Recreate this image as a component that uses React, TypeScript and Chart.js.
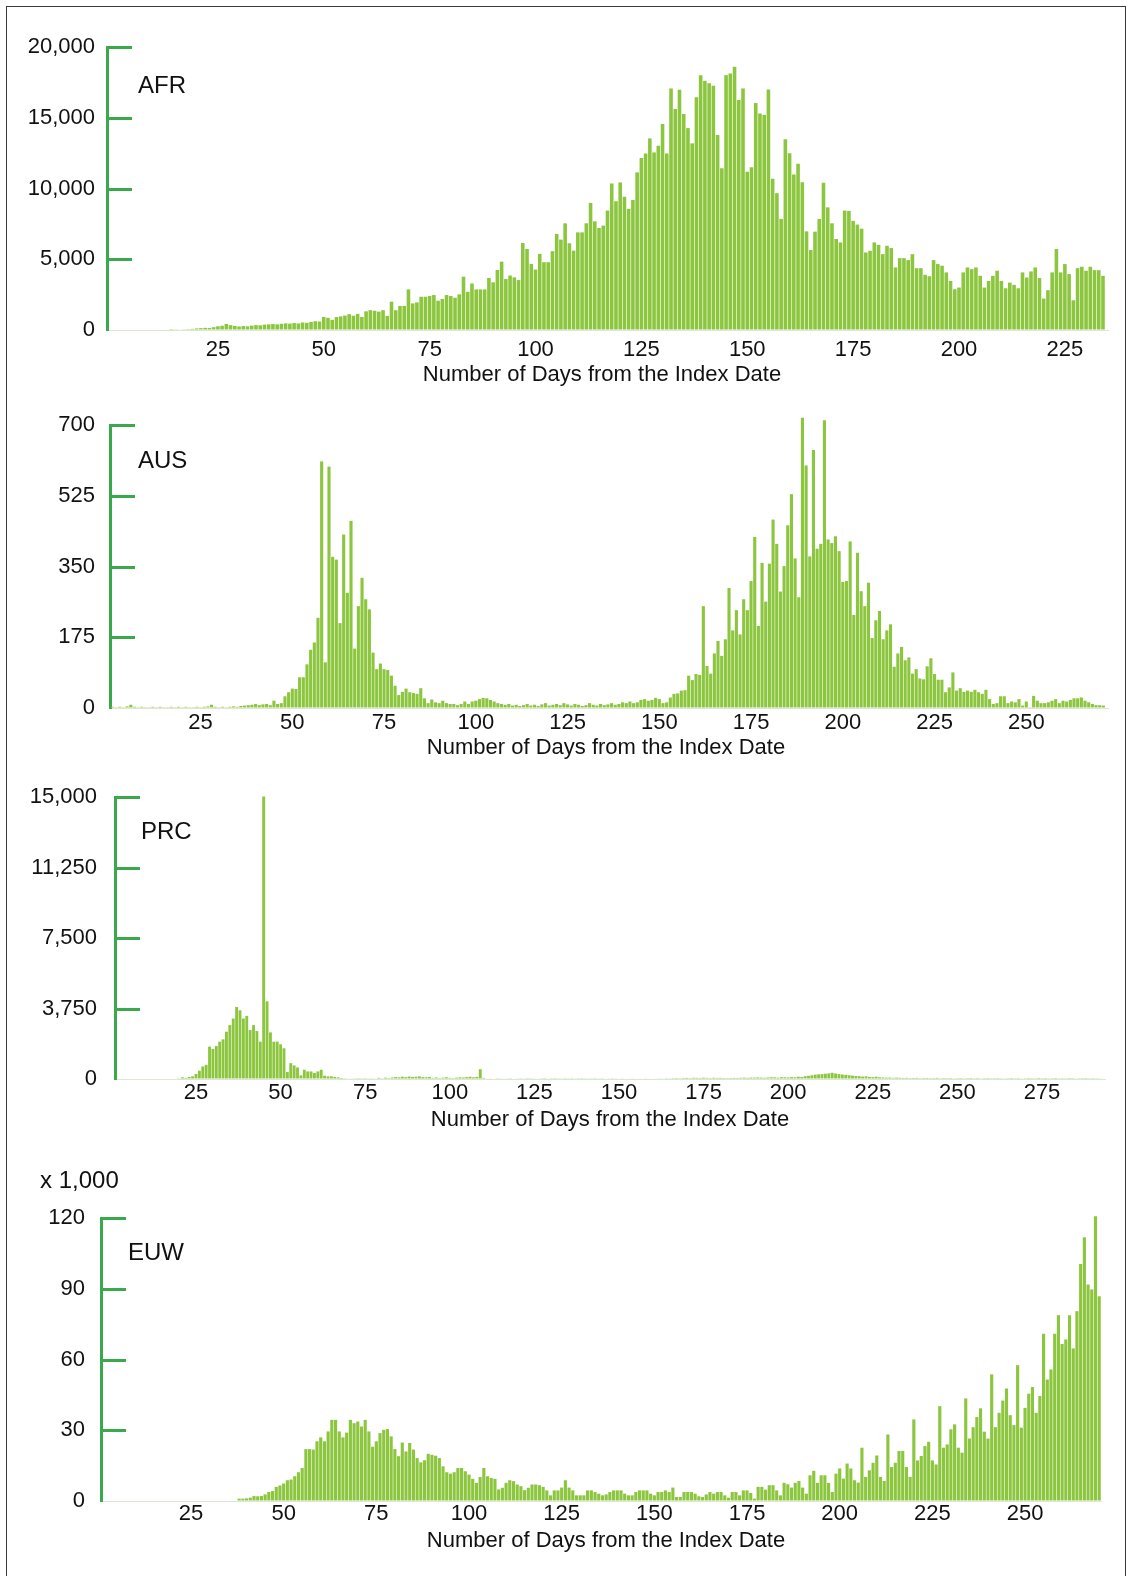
import React, { useRef, useEffect } from 'react';
import Chart from 'chart.js/auto';

// daily counts, day 1 onwards
const AFR_CASES = [
  0, 0, 0, 0, 0, 0, 0, 0, 0, 0,
  0, 0, 0, 10, 20, 40, 50, 60, 80, 110,
  130, 150, 140, 200, 260, 300, 430, 340, 290, 250,
  280, 260, 310, 350, 330, 380, 400, 420, 400, 440,
  470, 450, 490, 460, 530, 510, 570, 620, 600, 920,
  860, 720, 910, 960, 1020, 1120, 1010, 1140, 920, 1320,
  1400, 1360, 1300, 1400, 1000, 2000, 1400, 1700, 1700, 2870,
  1880, 1950, 2350, 2350, 2400, 2470, 2070, 2190, 2470, 2400,
  2280, 2520, 3770, 2700, 3290, 2870, 2870, 2870, 3680, 3370,
  4240, 4830, 3600, 3850, 3720, 3530, 6150, 5730, 4670, 4270,
  5380, 4790, 4790, 5570, 6790, 6390, 7540, 6130, 5610, 6900,
  6900, 7540, 8980, 7680, 7210, 7380, 8440, 10360, 9100, 10430,
  9420, 8560, 9190, 11140, 12150, 12480, 13540, 12550, 13020, 14550,
  12480, 17070, 15610, 16980, 15260, 14270, 13190, 16440, 18010, 17610,
  17440, 17260, 13780, 11430, 18010, 18130, 18600, 16250, 17070, 11190,
  11500, 16040, 15300, 15200, 17000, 10690, 9670, 7850, 13480, 12500,
  10990, 11750, 10450, 6970, 5650, 6950, 7850, 10400, 8670, 7540,
  6430, 6190, 8440, 8420, 7710, 7450, 7160, 5480, 5600, 6190,
  6020, 5360, 5950, 5790, 4420, 5080, 5080, 4940, 5360, 4370,
  4370, 3900, 3800, 4940, 4660, 4540, 4070, 3470, 2880, 3000,
  4070, 4420, 4300, 4420, 3830, 3000, 3470, 3830, 4190, 3470,
  2950, 3350, 3190, 2950, 4070, 3710, 4140, 4420, 3670, 2220,
  2810, 4070, 5720, 4070, 4660, 3950, 2100, 4370, 4470, 4190,
  4470, 4230, 4230, 3830,
];

const AUS_CASES = [
  3, 2, 3, 2, 4, 8, 3, 2, 3, 2,
  2, 3, 2, 3, 2, 2, 3, 2, 3, 2,
  3, 2, 2, 3, 2, 3, 4, 8, 3, 2,
  3, 2, 3, 4, 3, 5, 6, 7, 8, 10,
  7, 9, 10, 7, 18, 10, 12, 29, 39, 48,
  47, 76, 76, 108, 144, 162, 223, 610, 113, 597,
  374, 367, 210, 429, 285, 463, 147, 252, 322, 269,
  244, 137, 96, 110, 96, 94, 80, 55, 32, 40,
  48, 39, 37, 35, 49, 24, 12, 21, 14, 12,
  18, 12, 10, 10, 7, 10, 16, 10, 16, 18,
  22, 25, 24, 20, 16, 12, 10, 8, 10, 6,
  8, 5, 7, 10, 6, 8, 5, 9, 12, 6,
  8, 10, 7, 12, 9, 6, 10, 8, 5, 7,
  12, 8, 6, 10, 7, 9, 12, 8, 10, 14,
  12, 16, 12, 14, 20, 22, 18, 20, 25, 22,
  12, 14, 26, 35, 36, 43, 44, 80, 69, 84,
  82, 252, 104, 85, 135, 166, 129, 170, 297, 192,
  242, 182, 269, 242, 314, 423, 203, 359, 263, 357,
  466, 406, 288, 351, 452, 529, 370, 274, 718, 600,
  375, 638, 394, 406, 712, 417, 408, 425, 388, 312,
  314, 412, 230, 384, 289, 252, 310, 173, 217, 240,
  170, 192, 207, 102, 135, 151, 118, 125, 85, 96,
  73, 71, 103, 123, 84, 70, 70, 39, 51, 88,
  43, 49, 40, 43, 40, 45, 39, 35, 45, 22,
  10, 12, 29, 29, 12, 16, 14, 22, 6, 16,
  2, 30, 18, 12, 12, 14, 18, 22, 12, 18,
  16, 20, 24, 24, 26, 18, 14, 10, 7, 7,
  6,
];

const PRC_CASES = [
  0, 0, 0, 0, 0, 0, 0, 0, 0, 0,
  0, 0, 0, 0, 0, 0, 0, 0, 0, 40,
  88, 60, 105, 140, 264, 440, 668, 756, 1723, 1600,
  1758, 1987, 2110, 2514, 2866, 3217, 3832, 3657, 3217, 3358,
  2602, 2866, 2550, 1987, 15031, 4131, 2479, 1987, 1987, 1846,
  1635, 369, 844, 721, 615, 193, 492, 404, 404, 316,
  404, 492, 176, 140, 140, 105, 88, 53, 40, 30,
  20, 15, 10, 15, 10, 20, 15, 30, 60, 40,
  70, 50, 80, 100, 90, 120, 100, 130, 110, 120,
  140, 100, 90, 110, 60, 80, 50, 70, 90, 60,
  50, 70, 90, 80, 100, 120, 90, 110, 520, 60,
  30, 20, 25, 15, 20, 30, 20, 15, 25, 20,
  15, 20, 10, 15, 20, 25, 15, 10, 20, 15,
  10, 15, 20, 10, 15, 10, 20, 15, 10, 15,
  20, 15, 10, 20, 15, 25, 20, 15, 20, 25,
  20, 25, 30, 20, 25, 30, 25, 20, 30, 25,
  30, 35, 30, 40, 35, 45, 50, 40, 55, 60,
  50, 65, 60, 55, 70, 60, 50, 65, 55, 60,
  50, 45, 55, 60, 50, 65, 70, 60, 75, 70,
  80, 75, 65, 80, 90, 85, 70, 95, 90, 80,
  100, 90, 120, 110, 150, 170, 200, 230, 250, 260,
  280, 300, 330, 290, 260, 240, 220, 200, 180, 160,
  150, 130, 140, 110, 100, 120, 90, 80, 70, 75,
  60, 70, 65, 55, 60, 50, 55, 60, 45, 50,
  55, 45, 50, 60, 40, 55, 45, 50, 40, 45,
  50, 40, 45, 55, 40, 50, 35, 45, 50, 40,
  45, 50, 40, 35, 45, 50, 40, 45, 35, 40,
  50, 45, 40, 55, 45, 50, 40, 45, 50, 40,
  45, 40, 50, 45, 35, 40, 45, 50, 40, 45,
  40, 35, 30,
];

// in thousands
const EUW_CASES = [
  0, 0, 0, 0, 0, 0, 0, 0, 0, 0,
  0, 0, 0, 0, 0, 0, 0, 0, 0, 0,
  0, 0, 0, 0, 0, 0, 0, 0, 0, 0,
  0, 0, 0, 0, 0, 0, 0, 1, 1, 1.1,
  1.4, 2.1, 2, 2.1, 2.8, 3.8, 4.2, 6, 6.6, 7.4,
  8.8, 9.1, 10.5, 12.2, 14, 22, 22, 21.8, 25.3, 27,
  25.3, 29.5, 34.4, 34.4, 29.5, 27, 29, 34.4, 33, 33.7,
  31.6, 34.4, 29.5, 23, 25.3, 28.8, 30.2, 30.5, 27.4, 22,
  19, 24.8, 21, 24.6, 21.8, 18.2, 16.4, 17.3, 20, 19.6,
  19.2, 18.2, 14.7, 12.2, 11.6, 12.2, 14, 14, 12.6, 11.2,
  9.4, 7.7, 10.2, 14, 10.5, 9.8, 9.4, 4.9, 5.6, 7.7,
  8.8, 8.4, 7, 6.3, 4.6, 5.6, 7, 7, 6.7, 6,
  4.5, 2.4, 4.5, 4.5, 5.7, 8.8, 5.7, 4.5, 2.4, 2.4,
  2.4, 4.5, 4.5, 3.8, 3.1, 2.4, 2.8, 3.8, 4.5, 4.5,
  4.5, 3.1, 2.4, 2.4, 3.8, 4.5, 4.5, 4.5, 3.1, 2.4,
  3.8, 3.8, 4.5, 3.8, 5.7, 1.7, 1.7, 3.8, 3.8, 3.8,
  3.1, 2, 1.7, 2.8, 3.8, 3.1, 3.8, 3.8, 2.4, 1.4,
  3.8, 3.8, 2.4, 4.5, 4.5, 3.4, 1, 6, 6, 4.8,
  6.7, 6.7, 4.5, 2.4, 7.7, 7.1, 5.7, 7.7, 8.5, 5.7,
  3.1, 10.9, 12.8, 7.7, 10.9, 10.9, 7.7, 3.8, 11.6, 13.8,
  9.5, 15.9, 13.8, 8.8, 7.8, 22.6, 10.2, 13, 16.2, 19.3,
  10.2, 8.5, 28.2, 14.4, 16.2, 21.2, 21.2, 14.4, 10.2, 34.6,
  17.2, 19.1, 23.3, 25.1, 17.2, 15.5, 40.2, 22.6, 24, 30.4,
  32.5, 22.6, 20.5, 43.5, 26.5, 31.3, 35.6, 39.3, 29.4, 26.5,
  53.7, 31.3, 37.4, 42.6, 47.7, 36.4, 32.2, 57.6, 31.1, 39.5,
  45.5, 48.3, 37.4, 44.5, 70.9, 51.5, 55.8, 70.9, 78.8, 66.6,
  68.5, 78.8, 64.7, 80.5, 100.5, 111.8, 91.8, 89.7, 120.7, 86.8,
];

const AFR_Y_TICKS = [0, 5000, 10000, 15000, 20000];
const AUS_Y_TICKS = [0, 175, 350, 525, 700];
const PRC_Y_TICKS = [0, 3750, 7500, 11250, 15000];
const EUW_Y_TICKS = [0, 30, 60, 90, 120];

const AFR_X_TICKS = [25, 50, 75, 100, 125, 150, 175, 200, 225];
const AUS_X_TICKS = [25, 50, 75, 100, 125, 150, 175, 200, 225, 250];
const PRC_X_TICKS = [25, 50, 75, 100, 125, 150, 175, 200, 225, 250, 275];
const EUW_X_TICKS = [25, 50, 75, 100, 125, 150, 175, 200, 225, 250];

const X_TITLE = 'Number of Days from the Index Date';
const FONT = '"Liberation Sans", Arial, sans-serif';
const AXIS_GREEN = '#3aa94c';
const BAR_FILL = '#8cc63f';
const INK = '#111';
const PAGE_W = 1132;

interface Area {
  left: number;
  top: number;
  right: number;
  bottom: number;
}

interface PanelProps {
  name: string;
  values: number[];
  yTicks: number[];
  xTicks: number[];
  top: number;
  height: number;
  area: Area; // page coordinates of the plot area
  day0: number; // page x of day 0
  dayPx: number;
  yPad: number;
  xLabelY: number;
  titleX: number;
  titleY: number;
  nameX: number;
  nameY: number;
  unit?: string;
  unitX?: number;
  unitY?: number;
}

const Panel: React.FC<PanelProps> = (p) => {
  const canvasRef = useRef<HTMLCanvasElement | null>(null);

  useEffect(() => {
    const ctx = canvasRef.current.getContext('2d');
    const points = p.values.map((v, i) => ({ x: i + 1, y: v }));

    const decor = {
      id: 'decor',
      afterDraw(chart: Chart) {
        const c = chart.ctx;
        const { chartArea, scales } = chart;
        c.save();
        c.strokeStyle = AXIS_GREEN;
        c.lineWidth = 3;
        p.yTicks.forEach((v) => {
          if (v === 0) return;
          const y = Math.round(scales.y.getPixelForValue(v)) + 0.5;
          c.beginPath();
          c.moveTo(chartArea.left, y);
          c.lineTo(chartArea.left + 25, y);
          c.stroke();
        });
        c.fillStyle = INK;
        c.textBaseline = 'middle';
        c.textAlign = 'left';
        c.font = `24px ${FONT}`;
        c.fillText(p.name, p.nameX, p.nameY - p.top);
        if (p.unit) c.fillText(p.unit, p.unitX, p.unitY - p.top);
        c.font = `22px ${FONT}`;
        c.textAlign = 'center';
        c.fillText(X_TITLE, p.titleX, p.titleY - p.top);
        c.restore();
      },
    };

    const chart = new Chart(ctx, {
      type: 'bar',
      data: {
        datasets: [
          {
            data: points,
            backgroundColor: BAR_FILL,
            borderWidth: 0,
            categoryPercentage: 1,
            barPercentage: 0.85,
            clip: false,
          },
        ],
      },
      options: {
        responsive: false,
        animation: false,
        layout: {
          padding: { top: p.area.top - p.top, right: PAGE_W - p.area.right, bottom: 0, left: 0 },
        },
        plugins: {
          legend: { display: false },
          tooltip: { enabled: false },
        },
        scales: {
          x: {
            type: 'linear',
            offset: false,
            min: (p.area.left - p.day0) / p.dayPx,
            max: (p.area.right - p.day0) / p.dayPx,
            afterBuildTicks: (s) => {
              s.ticks = p.xTicks.map((v) => ({ value: v }));
            },
            afterFit: (s) => {
              s.height = p.top + p.height - p.area.bottom;
            },
            grid: { drawOnChartArea: false, drawTicks: false },
            border: { color: '#dde5d4', width: 1 },
            ticks: {
              font: { family: FONT, size: 22, lineHeight: 1.2 },
              color: INK,
              padding: p.xLabelY - p.area.bottom - 13.2,
              maxRotation: 0,
              autoSkip: false,
              callback: (v) => String(v),
            },
          },
          y: {
            min: 0,
            max: p.yTicks[p.yTicks.length - 1],
            afterBuildTicks: (s) => {
              s.ticks = p.yTicks.map((v) => ({ value: v }));
            },
            afterFit: (s) => {
              s.width = p.area.left;
            },
            grid: { drawOnChartArea: false, drawTicks: false },
            border: { color: AXIS_GREEN, width: 3 },
            ticks: {
              font: { family: FONT, size: 22, lineHeight: 1.2 },
              color: INK,
              padding: p.yPad,
              callback: (v) => Number(v).toLocaleString('en-US'),
            },
          },
        },
      },
      plugins: [decor],
    });
    return () => chart.destroy();
  }, []);

  return (
    <canvas
      ref={canvasRef}
      width={PAGE_W}
      height={p.height}
      style={{ position: 'absolute', left: 0, top: p.top, width: PAGE_W, height: p.height }}
    />
  );
};

const App: React.FC = () => (
  <div
    style={{
      position: 'absolute',
      left: 0,
      top: 0,
      width: PAGE_W,
      height: 1576,
      overflow: 'hidden',
      background: '#fff',
    }}
  >
    <div
      style={{
        position: 'absolute',
        left: 6,
        top: 6,
        width: 1118,
        height: 1600,
        borderTop: '1.5px solid #3a3a3a',
        borderLeft: '1.5px solid #3a3a3a',
        borderRight: '1.5px solid #3a3a3a',
      }}
    />
    <Panel
      name="AFR"
      values={AFR_CASES}
      yTicks={AFR_Y_TICKS}
      xTicks={AFR_X_TICKS}
      top={0}
      height={395}
      area={{ left: 107, top: 47, right: 1108, bottom: 330 }}
      day0={112}
      dayPx={4.235}
      yPad={12}
      xLabelY={350}
      titleX={602}
      titleY={375}
      nameX={138}
      nameY={86}
    />
    <Panel
      name="AUS"
      values={AUS_CASES}
      yTicks={AUS_Y_TICKS}
      xTicks={AUS_X_TICKS}
      top={395}
      height={370}
      area={{ left: 110, top: 425, right: 1108, bottom: 708 }}
      day0={108.8}
      dayPx={3.67}
      yPad={15}
      xLabelY={723}
      titleX={606}
      titleY={748}
      nameX={138}
      nameY={461}
    />
    <Panel
      name="PRC"
      values={PRC_CASES}
      yTicks={PRC_Y_TICKS}
      xTicks={PRC_X_TICKS}
      top={765}
      height={390}
      area={{ left: 115, top: 797, right: 1105, bottom: 1079 }}
      day0={111.4}
      dayPx={3.384}
      yPad={18}
      xLabelY={1093}
      titleX={610}
      titleY={1120}
      nameX={141}
      nameY={832}
    />
    <Panel
      name="EUW"
      values={EUW_CASES}
      yTicks={EUW_Y_TICKS}
      xTicks={EUW_X_TICKS}
      top={1155}
      height={421}
      area={{ left: 101, top: 1218, right: 1101, bottom: 1501 }}
      day0={98.3}
      dayPx={3.707}
      yPad={16}
      xLabelY={1514}
      titleX={606}
      titleY={1541}
      nameX={128}
      nameY={1253}
      unit="x 1,000"
      unitX={40}
      unitY={1181}
    />
  </div>
);

export default App;
